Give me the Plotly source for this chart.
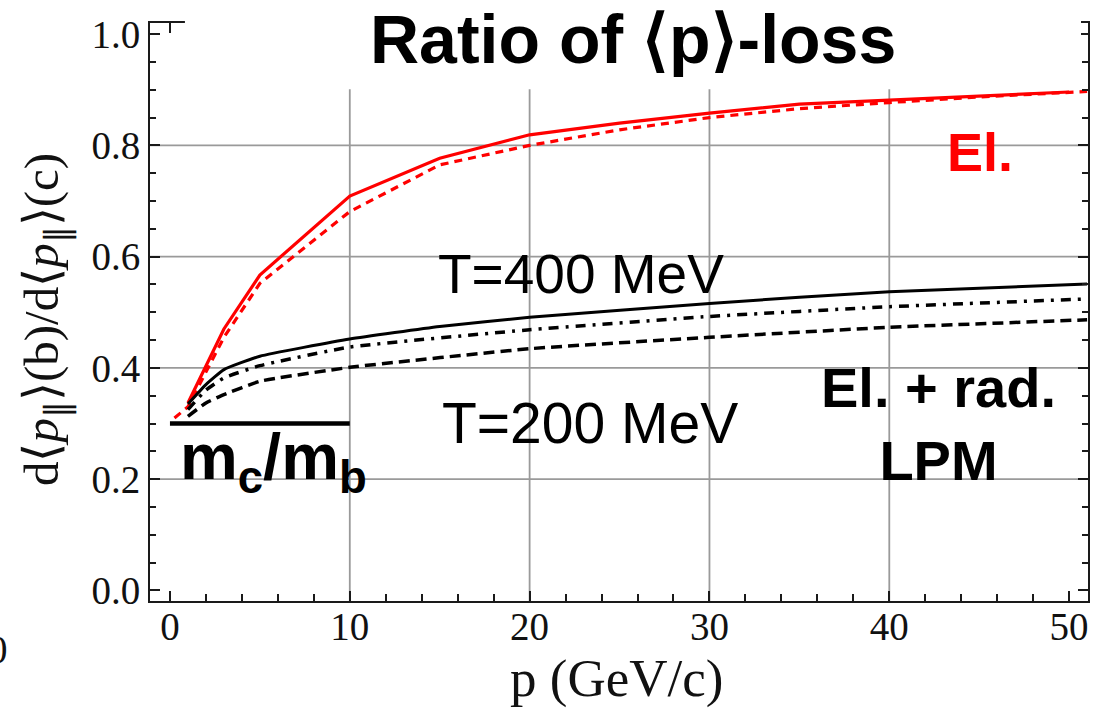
import plotly.graph_objects as go

# Momentum grid (GeV/c) and ratio d<p>(b)/d<p>(c) for each curve
p_el_solid = [1, 3, 5, 10, 15, 20, 25, 30, 35, 40, 45, 50]
ratio_el_solid = [0.337, 0.470, 0.567, 0.709, 0.777, 0.819, 0.840, 0.858, 0.874, 0.881, 0.889, 0.896]

p_el_dash = [0.25, 1, 3, 5, 10, 15, 20, 25, 30, 35, 40, 45, 51]
ratio_el_dash = [0.310, 0.330, 0.455, 0.552, 0.681, 0.765, 0.800, 0.828, 0.850, 0.866, 0.877, 0.887, 0.897]

p_rad_400 = [1, 2, 3, 5, 10, 15, 20, 30, 40, 51]
ratio_rad_400 = [0.335, 0.370, 0.397, 0.421, 0.452, 0.4745, 0.491, 0.516, 0.537, 0.551]

p_rad_mid = [1, 2, 3, 5, 10, 20, 30, 40, 51]
ratio_rad_mid = [0.325, 0.360, 0.382, 0.404, 0.4375, 0.4686, 0.4925, 0.510, 0.524]

p_rad_200 = [1, 2, 3, 5, 10, 20, 30, 40, 51]
ratio_rad_200 = [0.313, 0.337, 0.352, 0.376, 0.401, 0.4345, 0.455, 0.473, 0.4865]

# Quark-mass ratio reference level
p_mass = [0, 10]
ratio_mass = [0.3, 0.3]

x_ticks = [0, 10, 20, 30, 40, 50]
y_ticks = [0.0, 0.2, 0.4, 0.6, 0.8, 1.0]
x_grid = [10, 20, 30, 40]
y_grid = [0.2, 0.4, 0.6, 0.8]

X_RANGE = [-1.11, 51.05]
Y_RANGE = [-0.019, 1.020]

SANS = "Liberation Sans, Arial, sans-serif"
SERIF = "Liberation Serif, Times New Roman, serif"
RED = "#ff0000"
BLACK = "#000000"

fig = go.Figure()

fig.add_trace(go.Scatter(x=p_el_solid, y=ratio_el_solid, mode="lines",
                         line=dict(color=RED, width=3.2)))
fig.add_trace(go.Scatter(x=p_el_dash, y=ratio_el_dash, mode="lines",
                         line=dict(color=RED, width=3.2, dash="8px,6px")))
fig.add_trace(go.Scatter(x=p_rad_400, y=ratio_rad_400, mode="lines",
                         line=dict(color=BLACK, width=3, shape="spline", smoothing=0.4)))
fig.add_trace(go.Scatter(x=p_rad_mid, y=ratio_rad_mid, mode="lines",
                         line=dict(color=BLACK, width=3.5, dash="10px,7px,3px,7px",
                                   shape="spline", smoothing=0.4)))
fig.add_trace(go.Scatter(x=p_rad_200, y=ratio_rad_200, mode="lines",
                         line=dict(color=BLACK, width=3.5, dash="11px,6px",
                                   shape="spline", smoothing=0.4)))
fig.add_trace(go.Scatter(x=p_mass, y=ratio_mass, mode="lines",
                         line=dict(color=BLACK, width=4.5)))

shapes = []
for gx in x_grid:
    shapes.append(dict(type="line", xref="x", yref="paper", x0=gx, x1=gx, y0=0, y1=1,
                       line=dict(color="#9a9a9a", width=1.8), layer="below"))
for gy in y_grid:
    shapes.append(dict(type="line", xref="paper", yref="y", x0=0, x1=1, y0=gy, y1=gy,
                       line=dict(color="#9a9a9a", width=1.8), layer="below"))
# white band behind the heading
shapes.append(dict(type="rect", xref="paper", yref="paper",
                   x0=35 / 940, x1=933 / 940, y0=(601.5 - 89) / 578.8, y1=1.05,
                   fillcolor="white", line=dict(width=0), layer="above"))

axis_common = dict(
    showgrid=False, zeroline=False, showline=True, linecolor="#1a1a1a", linewidth=2,
    mirror="ticks", ticks="inside", tickcolor="#1a1a1a", tickwidth=1.6,
    tickfont=dict(family=SERIF, size=39, color="#111111"),
)

fig.update_xaxes(range=X_RANGE, tickvals=x_ticks, ticklen=10,
                 minor=dict(dtick=2, tick0=0, ticklen=7, ticks="inside", tickcolor="#1a1a1a",
                            tickwidth=1.6, showgrid=False),
                 ticklabelstandoff=-10, **axis_common)
fig.update_yaxes(range=Y_RANGE, tickvals=y_ticks, tickformat=".1f", ticklen=10,
                 minor=dict(dtick=0.05, tick0=0, ticklen=6, ticks="inside", tickcolor="#1a1a1a",
                            tickwidth=1.6, showgrid=False),
                 ticklabelstandoff=0, **axis_common)

annotations = [
    dict(text="<b>Ratio of ⟨p⟩-loss</b>", x=25.75, y=0.992, xref="x", yref="y",
         font=dict(family=SANS, size=68, color=BLACK), showarrow=False,
         xanchor="center", yanchor="middle"),
    dict(text="<b>El.</b>", x=45.06, y=0.788, xref="x", yref="y",
         font=dict(family=SANS, size=54, color=RED), showarrow=False,
         xanchor="center", yanchor="middle"),
    dict(text="T=400 MeV", x=22.85, y=0.569, xref="x", yref="y",
         font=dict(family=SANS, size=55, color=BLACK), showarrow=False,
         xanchor="center", yanchor="middle"),
    dict(text="T=200 MeV", x=23.35, y=0.3016, xref="x", yref="y",
         font=dict(family=SANS, size=57, color=BLACK), showarrow=False,
         xanchor="center", yanchor="middle"),
    dict(text="<b>El. + rad.<br>LPM</b>", x=42.75, y=0.2985, xref="x", yref="y",
         font=dict(family=SANS, size=56, color=BLACK), showarrow=False,
         xanchor="center", yanchor="middle"),
    dict(text="<b>m<sub>c</sub>/m<sub>b</sub></b>", x=0.45, y=0.232, xref="x", yref="y",
         font=dict(family=SANS, size=65, color=BLACK), showarrow=False,
         xanchor="left", yanchor="middle"),
    dict(text="p (GeV/c)", x=(617 - 150) / 940, y=(601.5 - 679) / 578.8,
         xref="paper", yref="paper",
         font=dict(family=SERIF, size=53, color="#111111"), showarrow=False,
         xanchor="center", yanchor="middle"),
    dict(text="d⟨<i>p</i><sub>∥</sub>⟩(b)/d⟨<i>p</i><sub>∥</sub>⟩(c)",
         x=(45 - 150) / 940, y=(601.5 - 320) / 578.8, xref="paper", yref="paper",
         textangle=-90, font=dict(family=SERIF, size=49, color="#111111"), showarrow=False,
         xanchor="center", yanchor="middle"),
    dict(text="0", x=(10 - 150) / 940, y=(601.5 - 650) / 578.8, xref="paper", yref="paper",
         font=dict(family=SERIF, size=39, color="#111111"), showarrow=False,
         xanchor="right", yanchor="middle"),
]

fig.update_layout(
    width=1096, height=725,
    margin=dict(l=150, r=6, t=23, b=123.5),
    plot_bgcolor="white", paper_bgcolor="white",
    showlegend=False,
    shapes=shapes,
    annotations=annotations,
)

fig.write_html("out.html")
